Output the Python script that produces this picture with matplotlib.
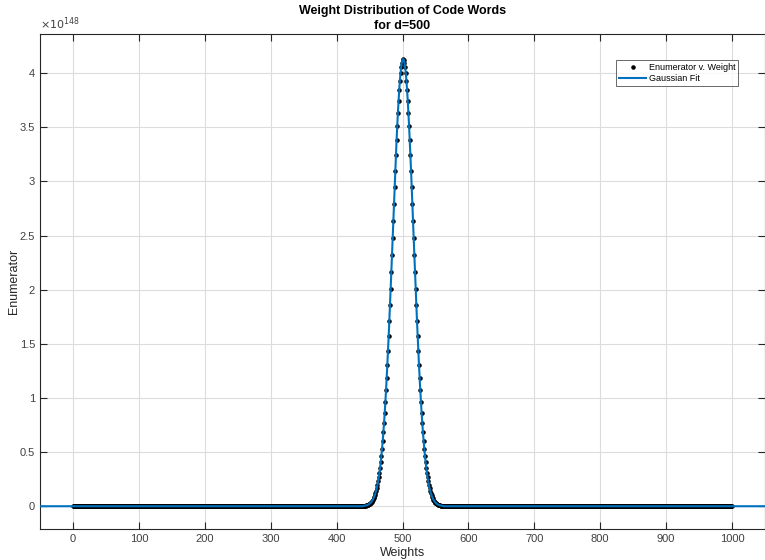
import matplotlib
matplotlib.use('Agg')
import matplotlib.pyplot as plt

# weights 0..1000, enumerator in units of 1e148
weights = list(range(0, 1001))

# nonzero part of the distribution, weights 440..560
peak_half = [4.130, 4.122, 4.097, 4.056, 4.000, 3.929, 3.843, 3.744, 3.634, 3.512,
             3.381, 3.242, 3.097, 2.946, 2.791, 2.633, 2.475, 2.317, 2.160, 2.006,
             1.856, 1.710, 1.569, 1.434, 1.305, 1.183, 1.069, 0.961, 0.861, 0.768,
             0.683, 0.604, 0.533, 0.468, 0.409, 0.356, 0.309, 0.267, 0.230, 0.197,
             0.168, 0.143, 0.121, 0.102, 0.086, 0.072, 0.060, 0.050, 0.041, 0.034,
             0.028, 0.023, 0.018, 0.015, 0.012, 0.010, 0.008, 0.006, 0.005, 0.004,
             0.003]
peak = peak_half[:0:-1] + peak_half          # 440..560
enumerator = [0.0] * 441 + peak + [0.0] * 439

# gaussian fit, drawn across the full x range
fit_weights = [-50] + weights + [1050]
fit_values = [0.0] + enumerator + [0.0]

x_ticks = list(range(0, 1001, 100))
y_ticks = [0, 0.5, 1, 1.5, 2, 2.5, 3, 3.5, 4]

plt.rcParams['font.family'] = ['Liberation Sans', 'DejaVu Sans']

fig = plt.figure(figsize=(7.65, 5.6), dpi=100)
ax = fig.add_axes([0.0523, 0.0554, 0.9477, 0.8836])

ax.plot(weights, enumerator, '.', color='black', markersize=4.5,
        label='Enumerator v. Weight', zorder=3)
ax.plot(fit_weights, fit_values, '-', color='#0072BD', linewidth=1.5,
        label='Gaussian Fit', zorder=4)

ax.set_xlim(-50, 1050)
ax.set_ylim(-0.21, 4.36)
ax.set_xticks(x_ticks)
ax.set_yticks(y_ticks)
ax.set_yticklabels(['0', '0.5', '1', '1.5', '2', '2.5', '3', '3.5', '4'])

ax.grid(True, color='#dcdcdc', linewidth=0.8)
ax.set_axisbelow(True)
ax.tick_params(direction='in', length=5, colors='#262626', labelsize=8,
               labelcolor='#404040', top=True, right=True)
for side in ['left', 'bottom', 'top', 'right']:
    ax.spines[side].set_color('#262626')
    ax.spines[side].set_linewidth(0.8)

ax.set_xlabel('Weights', fontsize=9, color='#262626', labelpad=2)
ax.set_ylabel('Enumerator', fontsize=9, color='#262626', labelpad=0)
ax.set_title('Weight Distribution of Code Words\nfor d=500', fontsize=9,
             fontweight='bold', color='#000000', pad=4, linespacing=1.3)

ax.text(0.0, 1.004, r'$\times10^{148}$', transform=ax.transAxes, fontsize=8,
        color='#404040', ha='left', va='bottom')

leg = ax.legend(loc='upper right', bbox_to_anchor=(0.963, 0.947), fontsize=6.5,
                frameon=True, fancybox=False, edgecolor='#262626',
                handlelength=3.0, handletextpad=0.3, borderpad=0.3,
                labelspacing=0.2, borderaxespad=0, markerscale=1.0)
leg.get_frame().set_linewidth(0.6)

fig.savefig('out.png', dpi=100)
